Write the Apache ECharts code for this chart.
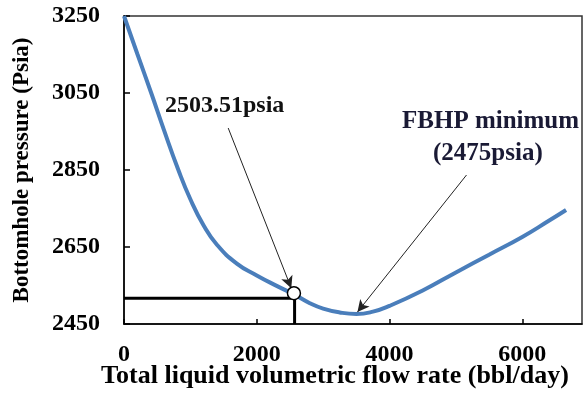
<!DOCTYPE html>
<html>
<head>
<meta charset="utf-8">
<script src="https://cdn.jsdelivr.net/npm/echarts@6/dist/echarts.min.js"></script>
<style>
  html, body { margin: 0; padding: 0; background: #fff; }
  #chart { width: 585px; height: 394px; }
</style>
</head>
<body>
<div id="chart"></div>
<script>
// flow rate (bbl/day) vs bottomhole pressure (psia)
var flowRate = [0, 200, 410, 600, 815, 1000, 1200, 1400, 1700, 2000, 2300, 2560, 2800, 3000, 3250, 3500, 3750, 4000, 4500, 5000, 5500, 6000, 6400, 6660];
var pressure = [3250, 3152, 3050, 2955, 2852, 2774, 2706, 2656, 2607, 2576, 2549, 2527, 2504, 2490, 2480, 2476, 2482, 2497, 2537, 2584, 2630, 2676, 2718, 2746];

// marked operating point and guide lines
var pointRate = [2560];
var pointPres = [2530];
var guideRate = [0, 2570, 2570];
var guidePres = [2517, 2517, 2450];

// arrows: [fromX, fromY, toX, toY]
var arrowA = [1570, 2959, 2520, 2543];
var arrowB = [5160, 2837, 3517, 2481];

var yTicks = [2450, 2650, 2850, 3050, 3250];
var yBase = yTicks[0];
var xMax = 6900;

var font = '"Liberation Serif", "Times New Roman", serif';

function shift(xs, ys) {
    var out = [];
    for (var i = 0; i < xs.length; i++) {
        out.push([xs[i], ys[i] - yBase]);
    }
    return out;
}

var curve = shift(flowRate, pressure);
var guideH = shift(guideRate.slice(0, 2), guidePres.slice(0, 2));
var guideV = shift(guideRate.slice(1), guidePres.slice(1));
var point = shift(pointRate, pointPres);

function arrowLine(a) {
    return [{ coord: [a[0], a[1] - yBase] }, { coord: [a[2], a[3] - yBase] }];
}

var myChart = echarts.init(document.getElementById('chart'));

var option = {
    animation: false,
    grid: {
        left: 124, top: 16, right: 3, bottom: 70,
        containLabel: false,
        outerBoundsMode: 'none',
        show: true, borderColor: '#333', borderWidth: 1.5, backgroundColor: 'transparent'
    },
    xAxis: {
        type: 'value',
        min: 0, max: xMax, interval: 2000,
        name: 'Total liquid volumetric flow rate (bbl/day)',
        nameLocation: 'middle', nameGap: 39,
        nameMoveOverlap: false,
        nameTextStyle: { fontFamily: font, fontWeight: 'bold', fontSize: 26, color: '#000', padding: [0, 36, 0, 0] },
        axisLine: { show: true, lineStyle: { color: '#000', width: 1.5 } },
        axisTick: { show: true, inside: true, length: 5, lineStyle: { color: '#000', width: 1.5 } },
        axisLabel: {
            fontFamily: font, fontWeight: 'bold', fontSize: 24, color: '#000', margin: 19, showMaxLabel: false,
            formatter: function (v) { return String(v); }
        },
        splitLine: { show: false }
    },
    yAxis: {
        type: 'value',
        min: 0, max: yTicks[yTicks.length - 1] - yBase, interval: 200,
        name: 'Bottomhole pressure (Psia)',
        nameLocation: 'middle', nameGap: 90,
        nameMoveOverlap: false,
        nameTextStyle: { fontFamily: font, fontWeight: 'bold', fontSize: 23, color: '#000' },
        axisLine: { show: true, lineStyle: { color: '#000', width: 1.5 } },
        axisTick: { show: true, inside: true, length: 6, lineStyle: { color: '#000', width: 1.5 } },
        axisLabel: {
            fontFamily: font, fontWeight: 'bold', fontSize: 24, color: '#000', margin: 24,
            formatter: function (v) { return String(v + yBase); }
        },
        splitLine: { show: false }
    },
    graphic: [
        { type: 'text', left: 165, top: 94, style: { text: '2503.51psia', font: 'bold 24px ' + font, fill: '#111' } },
        { type: 'text', left: 402, top: 109, style: { text: 'FBHP minimum', font: 'bold 25px ' + font, fill: '#1a1a35' } },
        { type: 'text', left: 433, top: 141, style: { text: '(2475psia)', font: 'bold 25px ' + font, fill: '#1a1a35' } }
    ],
    series: [
        {
            type: 'line',
            data: guideH,
            symbol: 'none',
            lineStyle: { color: '#000', width: 3 },
            z: 2
        },
        {
            type: 'line',
            data: guideV,
            symbol: 'none',
            lineStyle: { color: '#000', width: 3 },
            z: 2
        },
        {
            type: 'line',
            data: curve,
            smooth: true,
            symbol: 'none',
            lineStyle: { color: '#4a7ebb', width: 4 },
            z: 3,
            markLine: {
                silent: true,
                symbol: ['none', 'arrow'],
                symbolSize: [9, 12],
                label: { show: false },
                lineStyle: { color: '#222', width: 1, type: 'solid' },
                data: [arrowLine(arrowA), arrowLine(arrowB)]
            }
        },
        {
            type: 'scatter',
            data: point,
            symbol: 'circle',
            symbolSize: 13,
            itemStyle: { color: '#fff', borderColor: '#000', borderWidth: 1.5, opacity: 1 },
            emphasis: { disabled: true },
            z: 5
        }
    ]
};

myChart.setOption(option);
</script>
</body>
</html>
